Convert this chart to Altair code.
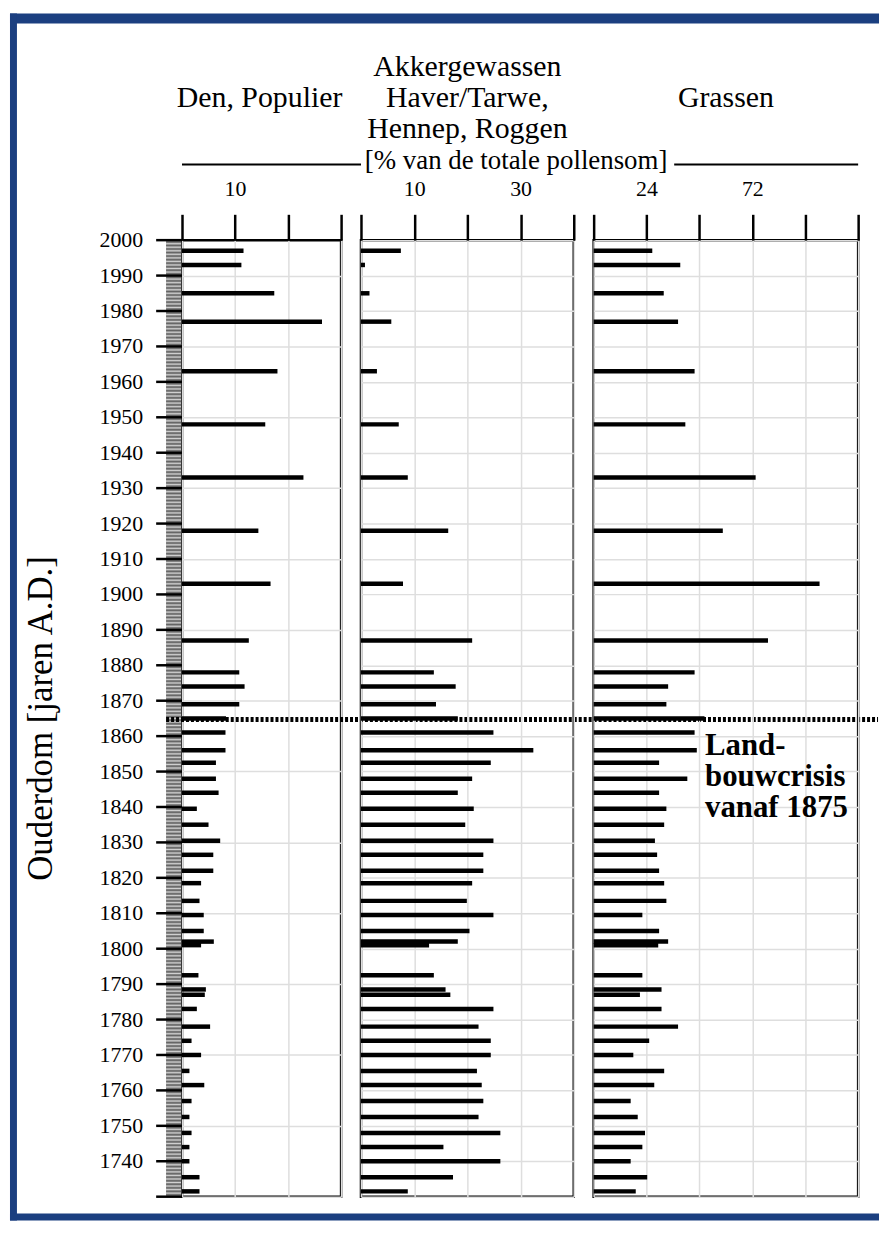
import altair as alt
import pandas as pd

# ---- data ----
years = [1997, 1993, 1985, 1977, 1963, 1948, 1933, 1918, 1903, 1887, 1878, 1874,
         1869, 1865, 1861, 1856, 1852.5, 1848, 1844, 1839.5, 1835, 1830.5, 1826.5,
         1822, 1818.5, 1813.5, 1809.5, 1805, 1802, 1801, 1792.5, 1788.5, 1787, 1783,
         1778, 1774, 1770, 1765.5, 1761.5, 1757, 1752.5, 1748, 1744, 1740, 1735.5, 1731.5]
den_populier = [11.6, 11.2, 17.4, 26.4, 18.0, 15.7, 22.9, 14.4, 16.7, 12.6, 10.8, 11.8,
                10.8, 8.3, 8.2, 8.2, 6.4, 6.4, 6.9, 2.8, 5.0, 7.2, 5.9,
                5.9, 3.6, 3.3, 4.1, 4.1, 6.0, 3.6, 3.1, 4.5, 4.3, 2.8,
                5.3, 1.8, 3.6, 1.4, 4.2, 1.8, 1.4, 1.8, 1.4, 1.4, 3.3, 3.3]
akkergewassen = [7.5, 0.75, 1.6, 5.7, 3.0, 7.1, 8.8, 16.4, 7.9, 20.9, 13.7, 17.8,
                 14.1, 18.2, 24.9, 32.4, 24.4, 20.9, 18.2, 21.2, 19.6, 24.9, 23.0,
                 23.0, 20.9, 19.9, 24.9, 20.4, 18.2, 12.8, 13.7, 15.9, 16.8, 24.9,
                 22.1, 24.4, 24.4, 21.8, 22.7, 23.0, 22.1, 26.2, 15.5, 26.2, 17.3, 8.8]
grassen = [26.6, 39.3, 31.8, 38.3, 45.8, 41.6, 73.5, 58.6, 102.5, 79.1, 45.8, 33.8,
           33.0, 50.3, 45.8, 46.8, 29.7, 42.5, 29.7, 33.0, 32.0, 27.8, 28.8,
           29.7, 32.0, 33.0, 22.1, 29.7, 33.8, 29.3, 22.1, 30.8, 21.0, 30.8,
           38.3, 25.2, 18.0, 32.0, 27.5, 16.8, 20.0, 23.3, 22.1, 16.8, 24.3, 19.1]

year_ticks = list(range(1730, 2001, 10))
year_labels = list(range(1740, 2001, 10))
strip_years = list(range(1730, 2000))          # sample-slice column (decoration)
crisis_year = 1864.7

den_ticks = [0, 10, 20, 30]
akker_ticks = [0, 10, 20, 30, 40]
gras_ticks = [0, 24, 48, 72, 96, 120]

df = pd.DataFrame({"year": years, "den": den_populier,
                   "akker": akkergewassen, "gras": grassen})
strip_df = pd.DataFrame({"year": strip_years})
strip_df["half"] = strip_df["year"] + 0.5
tick_df = pd.DataFrame({"year": year_ticks})
label_df = pd.DataFrame({"year": year_labels})
one = pd.DataFrame({"a": [0]})

FONT = "Liberation Serif"
H = 962
W1, W2, W3 = 160, 214, 266
BLUE = "#1b3f80"

yscale = alt.Scale(domain=[1730, 2000], nice=False, zero=False)
YAXIS = alt.Axis(values=year_ticks, title=None, labels=False, ticks=False,
                 domain=False, grid=True, gridColor="#dedede", gridWidth=1.5)


def xaxis(ticks, shown):
    expr = " || ".join(f"datum.value == {v}" for v in shown)
    return alt.Axis(orient="top", values=ticks, title=None,
                    labelExpr=f"({expr}) ? datum.label : ''",
                    labelOverlap=False,
                    labelFont=FONT, labelFontSize=22, labelColor="black",
                    labelPadding=14, tickSize=26, tickWidth=2.5, tickColor="black",
                    domain=False, grid=True, gridColor="#dedede", gridWidth=1.5)


def bars(field, dom, ticks, shown):
    return alt.Chart(df).mark_rule(strokeWidth=4.5, color="black", strokeCap="butt").encode(
        x=alt.X(f"{field}:Q", scale=alt.Scale(domain=dom, nice=False),
                axis=xaxis(ticks, shown)),
        x2=alt.datum(0),
        y=alt.Y("year:Q", scale=yscale, axis=YAXIS),
    )


def text(txt, x, y, size=30, bold=False, align="center", baseline="middle", angle=0, lh=None):
    kw = dict(font=FONT, fontSize=size, color="black", align=align, baseline=baseline)
    if bold:
        kw["fontWeight"] = "bold"
    if angle:
        kw["angle"] = angle
    if lh:
        kw["lineBreak"] = "\n"
        kw["lineHeight"] = lh
    return alt.Chart(one).mark_text(**kw).encode(
        x=alt.value(x), y=alt.value(y), text=alt.value(txt))


def prect(x, x2, y, y2, color):
    return alt.Chart(one).mark_rect(color=color).encode(
        x=alt.value(x), x2=alt.value(x2), y=alt.value(y), y2=alt.value(y2))


# ---------- panel 1 ----------
strip_bg = alt.Chart(one).mark_rect(color="#8c8c8c").encode(
    x=alt.value(-16), x2=alt.value(-1),
    y=alt.datum(1730, scale=yscale), y2=alt.datum(2000))
strip_light = alt.Chart(strip_df).mark_rule(color="#d2d2d2", strokeWidth=1).encode(
    x=alt.value(-16), x2=alt.value(-1), y=alt.Y("year:Q", scale=yscale, axis=YAXIS))
strip_dark = alt.Chart(strip_df).mark_rule(color="#5a5a5a", strokeWidth=0.8).encode(
    x=alt.value(-16), x2=alt.value(-1), y=alt.Y("half:Q", scale=yscale, axis=YAXIS))
strip_ticks = alt.Chart(tick_df).mark_rule(color="black", strokeWidth=2.5).encode(
    x=alt.value(-26), x2=alt.value(0), y=alt.Y("year:Q", scale=yscale, axis=YAXIS))
ylabels = alt.Chart(label_df).mark_text(
    font=FONT, fontSize=22, color="black", align="right", baseline="middle").encode(
    x=alt.value(-39), y=alt.Y("year:Q", scale=yscale, axis=YAXIS),
    text=alt.Text("year:Q", format="d"))

crisis = alt.Chart(one).mark_rule(color="black", strokeWidth=5, strokeDash=[3, 2]).encode(
    x=alt.value(-16), x2=alt.value(700), y=alt.datum(crisis_year, scale=yscale))

frame = [
    prect(-173, 701, -228, -218, BLUE),
    prect(-173, -166, -228, 986, BLUE),
    prect(-173, 701, 979, 986, BLUE),
]

header = [
    text("[% van de totale pollensom]", 336, -80, size=27),
    alt.Chart(one).mark_rule(color="black", strokeWidth=2).encode(
        x=alt.value(0), x2=alt.value(180), y=alt.value(-76)),
    alt.Chart(one).mark_rule(color="black", strokeWidth=2).encode(
        x=alt.value(495), x2=alt.value(680), y=alt.value(-76)),
    text("Den, Populier", W1 / 2 - 2, -143),
    text("Ouderdom [jaren A.D.]", -142, H / 2, size=35, angle=270),
]

p1 = alt.layer(
    bars("den", [0, 30], den_ticks, [10]),
    strip_bg, strip_light, strip_dark, strip_ticks, ylabels,
    crisis, *frame, *header,
).properties(width=W1, height=H)

# ---------- panel 2 ----------
p2 = alt.layer(
    bars("akker", [0, 40], akker_ticks, [10, 30]),
    text("Akkergewassen", W2 / 2, -174),
    text("Haver/Tarwe,", W2 / 2, -143),
    text("Hennep, Roggen", W2 / 2, -112),
).properties(width=W2, height=H)

# ---------- panel 3 ----------
p3 = alt.layer(
    bars("gras", [0, 120], gras_ticks, [24, 72]),
    text("Grassen", W3 / 2, -143),
    text("Land-\nbouwcrisis\nvanaf 1875", 112, 494, size=31, bold=True,
         align="left", baseline="top", lh=31),
).properties(width=W3, height=H)

chart = alt.hconcat(p1, p2, p3, spacing=20, bounds="flush").properties(
    padding=0, background="white"
).configure_view(stroke="black", strokeWidth=2.5).resolve_scale(y="independent")

chart.save("out.html", embed_options={"renderer": "svg", "actions": False})
